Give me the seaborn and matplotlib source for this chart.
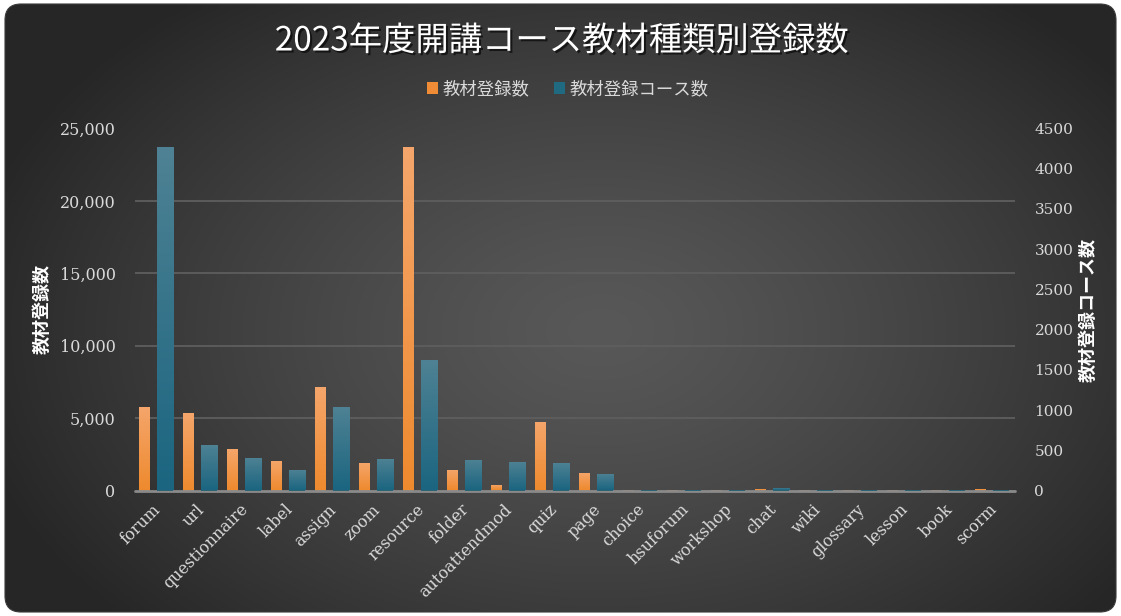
import numpy as np
import pandas as pd
import matplotlib
matplotlib.use("Agg")
import matplotlib.pyplot as plt
import seaborn as sns
from matplotlib.patches import FancyBboxPatch, Patch
from matplotlib.colors import LinearSegmentedColormap
from matplotlib.transforms import ScaledTranslation
import matplotlib.patheffects as pe

# ---- data ----
categories = ["forum", "url", "questionnaire", "label", "assign", "zoom", "resource",
              "folder", "autoattendmod", "quiz", "page", "choice", "hsuforum", "workshop",
              "chat", "wiki", "glossary", "lesson", "book", "scorm"]
material_counts = [5750, 5330, 2840, 2010, 7120, 1870, 23700, 1450, 380, 4700, 1240,
                   60, 20, 20, 90, 20, 30, 30, 30, 100]
course_counts = [4270, 560, 400, 250, 1040, 390, 1620, 380, 360, 340, 200,
                 10, 10, 10, 35, 10, 10, 10, 10, 10]
left_ticks = [0, 5000, 10000, 15000, 20000, 25000]
right_ticks = [0, 500, 1000, 1500, 2000, 2500, 3000, 3500, 4000, 4500]

series_names = ["教材登録数", "教材登録コース数"]
title_text = "2023年度開講コース教材種類別登録数"

JP = ["Noto Sans CJK JP", "DejaVu Sans"]
SERIF = "DejaVu Serif"
TXT = "#d9d9d9"

sns.set_theme(style="dark")

W, H = 1121, 616
fig = plt.figure(figsize=(W / 100, H / 100), dpi=100)
fig.patch.set_facecolor("white")

# ---- dark radial background inside a rounded frame ----
bg = fig.add_axes([0, 0, 1, 1], zorder=-10)
bg.set_xlim(0, W)
bg.set_ylim(H, 0)
bg.axis("off")
yy, xx = np.mgrid[0:H, 0:W]
r = np.sqrt(((xx - 600) / 650.0) ** 2 + ((yy - 330) / 430.0) ** 2)
shade = np.clip(r, 0, 1) ** 1.3
c_in, c_out = 0x58 / 255, 0x26 / 255
img = c_in + (c_out - c_in) * shade
rgb = np.dstack([img, img, img])
im = bg.imshow(rgb, extent=[0, W, H, 0], interpolation="bilinear", aspect="auto")
frame = FancyBboxPatch((5, 4), W - 10, H - 8, boxstyle="round,pad=0,rounding_size=16",
                       transform=bg.transData, facecolor="none", edgecolor="#3a3a3a", lw=0.8)
bg.add_patch(frame)
im.set_clip_path(frame)

# ---- plotting axes ----
left, right = 135 / W, 1015 / W
bottom, top = (H - 490.5) / H, (H - 128.5) / H
ax = fig.add_axes([left, bottom, right - left, top - bottom])
ax.set_facecolor("none")
ax2 = ax.twinx()
ax2.set_facecolor("none")

n = len(categories)
idx = np.arange(n)
orange_off, orange_w = -0.284, 0.25
teal_off, teal_w = 0.19, 0.364

df_mat = pd.DataFrame({"pos": idx + orange_off, "value": material_counts})
df_crs = pd.DataFrame({"pos": idx + teal_off, "value": course_counts})

sns.barplot(data=df_mat, x="pos", y="value", native_scale=True, width=orange_w,
            color="#f08c35", errorbar=None, ax=ax, zorder=3, linewidth=0)
sns.barplot(data=df_crs, x="pos", y="value", native_scale=True, width=teal_w,
            color="#1f6a80", errorbar=None, ax=ax2, zorder=3, linewidth=0)

orange_cmap = LinearSegmentedColormap.from_list("o", ["#ee8a2e", "#f5a66c"])
teal_cmap = LinearSegmentedColormap.from_list("t", ["#1b6580", "#4f8294"])
grad = np.linspace(0, 1, 256).reshape(-1, 1)


def shade_bars(axis, cmap):
    for p in list(axis.patches):
        x0, w, h = p.get_x(), p.get_width(), p.get_height()
        if h <= 0:
            continue
        gi = axis.imshow(grad, extent=[x0, x0 + w, 0, h], origin="lower", cmap=cmap,
                         aspect="auto", zorder=4, interpolation="bilinear")
        gi.set_clip_path(p)


shade_bars(ax, orange_cmap)
shade_bars(ax2, teal_cmap)

ax.set_xlim(-0.5, n - 0.5)
ax2.set_xlim(-0.5, n - 0.5)
ax.set_ylim(0, 25000)
ax2.set_ylim(0, 4500)

# gridlines and baseline
ax.set_yticks(left_ticks)
ax.set_yticklabels([f"{v:,}" for v in left_ticks], fontfamily=SERIF, fontsize=11.5, color=TXT)
ax2.set_yticks(right_ticks)
ax2.set_yticklabels([str(v) for v in right_ticks], fontfamily=SERIF, fontsize=11, color=TXT)
ax.grid(False)
ax2.grid(False)
for v in left_ticks[1:]:
    ax.axhline(v, color="#5e5e5e", lw=1.3, zorder=1)
ax.axhline(0, color="#8a8a8a", lw=2.0, zorder=6, clip_on=False)

ax.tick_params(axis="y", length=0, pad=14)
ax2.tick_params(axis="y", length=0, pad=14)
ax.set_xticks(idx)
ax.set_xticklabels(categories, rotation=45, ha="right", rotation_mode="anchor",
                   fontfamily=SERIF, fontsize=11.5, color=TXT)
ax.tick_params(axis="x", length=0, pad=9)
ax2.tick_params(axis="x", length=0)
shift = ScaledTranslation(-5 / 100, 2 / 100, fig.dpi_scale_trans)
for lbl in ax.get_xticklabels():
    lbl.set_transform(lbl.get_transform() + shift)

for a in (ax, ax2):
    for s in a.spines.values():
        s.set_visible(False)
    a.set_xlabel("")

ax.set_ylabel(series_names[0], fontfamily=JP, fontsize=13, fontweight="bold", color="white",
              labelpad=6)
ax2.set_ylabel(series_names[1], fontfamily=JP, fontsize=13, fontweight="bold", color="white",
               rotation=90, labelpad=4)

# title and legend
fig.text(562 / W, 1 - 41 / H, title_text, ha="center", va="center", fontsize=24,
         fontfamily=JP, color="white",
         path_effects=[pe.withSimplePatchShadow(offset=(1.5, -1.5), shadow_rgbFace="black", alpha=0.6)])

handles = [Patch(facecolor="#f08c35", edgecolor="none"), Patch(facecolor="#1f6a80", edgecolor="none")]
leg = fig.legend(handles, series_names, loc="center", bbox_to_anchor=(568 / W, 1 - 89 / H),
                 ncol=2, frameon=False, handlelength=0.6, handleheight=0.7, handletextpad=0.3,
                 columnspacing=1.4, prop={"family": JP, "size": 12.5})
for t in leg.get_texts():
    t.set_color(TXT)

fig.savefig("out.png", dpi=100, facecolor="white")
